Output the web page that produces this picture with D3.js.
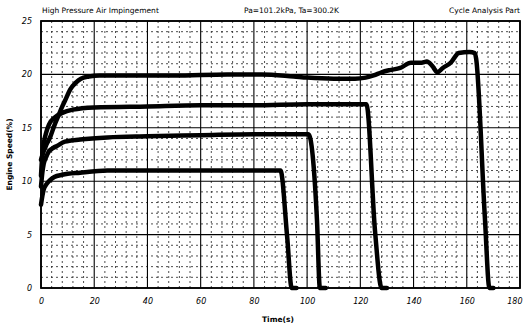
<!DOCTYPE html>
<html>
<head>
<script src="https://d3js.org/d3.v7.min.js"></script>
<meta charset="utf-8">
<style>
body { margin: 0; background: #fff; }
text { font-family: "DejaVu Sans", sans-serif; fill: #000; }
.tick text { font-style: italic; font-size: 8px; }
</style>
</head>
<body>
<div class="chart"></div>
<script>

// four runs, time (s) and engine speed (%)
var timeA  = [0, 1, 2, 3.4, 5, 6.5, 8, 9.5, 11, 13, 15, 18, 22, 30, 50, 70, 83, 95, 100, 110, 118, 122, 125, 128, 131, 135, 139, 143, 145, 147, 149, 151, 154, 157, 161, 163, 163.5, 166.8, 168.5, 170];
var speedA = [12, 12.8, 13.4, 14.1, 15.2, 16.1, 17, 17.8, 18.6, 19.2, 19.6, 19.8, 19.9, 19.9, 19.9, 20, 20, 19.8, 19.7, 19.6, 19.6, 19.7, 19.9, 20.2, 20.4, 20.6, 21.1, 21.1, 21.2, 20.8, 20.2, 20.6, 21.1, 22, 22.1, 22, 21.5, 6.6, 0, 0];

var timeB  = [0, 0.5, 1, 2, 3, 5.3, 8, 12, 20, 40, 60, 80, 100, 120, 122.3, 125.5, 128, 130];
var speedB = [10.5, 12.5, 13.5, 14.6, 15.3, 16, 16.4, 16.7, 16.9, 17, 17.1, 17.1, 17.2, 17.2, 17.2, 5.4, 0, 0];

var timeC  = [0, 0.5, 1, 2, 3, 4.5, 6, 9, 14.7, 25, 40, 60, 80, 100.5, 103.7, 104.8, 107];
var speedC = [9.5, 10.8, 11.6, 12.3, 12.8, 13.1, 13.3, 13.7, 13.9, 14.1, 14.2, 14.3, 14.4, 14.4, 6.4, 0, 0];

var timeD  = [0, 0.5, 1, 2, 3.4, 5, 8, 14.7, 25, 50, 70, 90, 92.5, 94.2, 96];
var speedD = [7.8, 8.6, 9.2, 9.7, 10.1, 10.4, 10.6, 10.8, 11, 11, 11, 11, 4.8, 0, 0];

var runs = [[timeA, speedA], [timeB, speedB], [timeC, speedC], [timeD, speedD]];

var xTicks = [0, 20, 40, 60, 80, 100, 120, 140, 160, 180];
var yTicks = [0, 5, 10, 15, 20, 25];

var width = 524, height = 328;
var pLeft = 41, pRight = 520, pTop = 21, pBottom = 288;

var svg = d3.select(".chart").append("svg")
  .attr("width", width)
  .attr("height", height);

var x = d3.scaleLinear().domain([0, 180]).range([pLeft, pRight]);
var y = d3.scaleLinear().domain([0, 25]).range([pBottom, pTop]);

// minor dashed grid
svg.append("g").selectAll("line")
  .data(d3.range(0, 181, 4).filter(function(d) { return d % 20 != 0; }))
  .enter().append("line")
  .attr("x1", x).attr("x2", x)
  .attr("y1", pTop).attr("y2", pBottom)
  .attr("stroke", "#222").attr("stroke-width", 0.8)
  .attr("stroke-dasharray", "2,3");

svg.append("g").selectAll("line")
  .data(d3.range(0, 26, 1).filter(function(d) { return d % 5 != 0; }))
  .enter().append("line")
  .attr("y1", y).attr("y2", y)
  .attr("x1", pLeft).attr("x2", pRight)
  .attr("stroke", "#222").attr("stroke-width", 0.8)
  .attr("stroke-dasharray", "2,3");

// major grid
svg.append("g").selectAll("line")
  .data(xTicks)
  .enter().append("line")
  .attr("x1", x).attr("x2", x)
  .attr("y1", pTop).attr("y2", pBottom)
  .attr("stroke", "#000").attr("stroke-width", 1.1);

svg.append("g").selectAll("line")
  .data(yTicks)
  .enter().append("line")
  .attr("y1", y).attr("y2", y)
  .attr("x1", pLeft).attr("x2", pRight)
  .attr("stroke", "#000").attr("stroke-width", 1.1);

svg.append("rect")
  .attr("x", pLeft).attr("y", pTop)
  .attr("width", pRight - pLeft).attr("height", pBottom - pTop)
  .attr("fill", "none").attr("stroke", "#000").attr("stroke-width", 1.8);

// axes (labels only)
var xAxis = svg.append("g")
  .attr("transform", "translate(0," + (pBottom + 4) + ")")
  .call(d3.axisBottom(x).tickValues(xTicks).tickSize(0).tickPadding(6));
xAxis.select(".domain").remove();
xAxis.selectAll(".tick text")
  .filter(function(d) { return d == 180; })
  .attr("text-anchor", "end").attr("dx", 2);

var yAxis = svg.append("g")
  .attr("transform", "translate(" + (pLeft - 7) + ",0)")
  .call(d3.axisLeft(y).tickValues(yTicks).tickSize(0).tickPadding(2));
yAxis.select(".domain").remove();

// curves
var line = d3.line()
  .x(function(d) { return x(d[0]); })
  .y(function(d) { return y(d[1]); })
  .curve(d3.curveMonotoneX);

runs.forEach(function(r) {
  var pts = r[0].map(function(t, i) { return [t, r[1][i]]; });
  svg.append("path")
    .datum(pts)
    .attr("d", line)
    .attr("fill", "none")
    .attr("stroke", "#000")
    .attr("stroke-width", 4.5)
    .attr("stroke-linejoin", "round")
    .attr("stroke-linecap", "round");
});

// titles
svg.append("text").attr("x", 42).attr("y", 13)
  .style("font-size", "7.5px").text("High Pressure Air Impingement");
svg.append("text").attr("x", 244).attr("y", 13)
  .style("font-size", "7.5px").text("Pa=101.2kPa, Ta=300.2K");
svg.append("text").attr("x", 520).attr("y", 13)
  .attr("text-anchor", "end")
  .style("font-size", "7.5px").text("Cycle Analysis Part");

svg.append("text")
  .attr("transform", "translate(12," + ((pTop + pBottom) / 2) + ") rotate(-90)")
  .attr("text-anchor", "middle")
  .style("font-size", "7.5px").style("font-weight", "bold")
  .text("Engine Speed(%)");

svg.append("text")
  .attr("x", 262).attr("y", 322)
  .style("font-size", "7.5px").style("font-weight", "bold")
  .text("Time(s)");

</script>
</body>
</html>
